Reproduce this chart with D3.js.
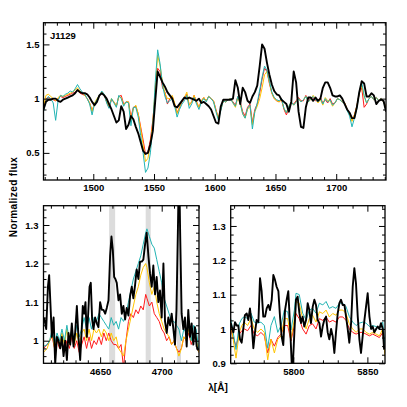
<!DOCTYPE html>
<html><head><meta charset="utf-8">
<script src="https://cdn.jsdelivr.net/npm/d3@7"></script>
<style>
body{margin:0;background:#fff}
svg{display:block}
text{font-family:"Liberation Sans",Arial,Helvetica,sans-serif;font-weight:bold}
</style>
</head><body>
<svg id="chart" width="407" height="407"></svg>
<script>
// ---------- DATA ----------
const topWave = [1459,1461,1463,1465,1467,1469,1471,1473,1475,1477,
1479,1481,1483,1485,1487,1489,1491,1493,1495,1497,
1499,1501,1503,1505,1507,1509,1511,1513,1515,1517,
1519,1521,1523,1525,1527,1529,1531,1533,1535,1537,
1539,1541,1543,1545,1547,1549,1551,1553,1555,1557,
1559,1561,1563,1565,1567,1569,1571,1573,1575,1577,
1579,1581,1583,1585,1587,1589,1591,1593,1595,1597,
1599,1601,1603,1605,1607,1609,1611,1613,1615,1617,
1619,1621,1623,1625,1627,1629,1631,1633,1635,1637,
1639,1641,1643,1645,1647,1649,1651,1653,1655,1657,
1659,1661,1663,1665,1667,1669,1671,1673,1675,1677,
1679,1681,1683,1685,1687,1689,1691,1693,1695,1697,
1699,1701,1703,1705,1707,1709,1711,1713,1715,1717,
1719,1721,1723,1725,1727,1729,1731,1733,1735,1737,
1739,1741];

const topBlack = [.90,.97,.99,.99,1.00,1.00,.98,.97,.99,1.00,
1.01,1.02,1.03,1.05,1.08,1.06,1.05,1.05,1.04,1.01,
.97,.94,.97,1.03,1.05,1.03,1.00,.95,.90,.84,
.78,.80,.93,.88,.72,.76,.84,.81,.74,.68,
.60,.52,.49,.50,.58,.70,.98,1.25,1.20,1.15,
1.11,1.06,1.03,1.00,.93,.92,.95,.98,1.01,1.00,
1.01,1.00,.99,.98,1.00,.96,.97,.95,.93,.90,
.84,.78,.77,.93,.99,.99,.99,.99,1.00,1.17,
1.10,.95,1.10,1.06,.98,.96,1.02,1.06,1.12,1.30,
1.50,1.46,1.33,1.22,1.13,1.07,1.04,1.03,.99,.97,
.95,.88,.97,1.25,1.15,.88,.74,.73,.92,1.01,
1.01,.98,1.01,.98,1.00,1.10,1.15,1.15,1.10,1.03,
1.02,1.02,1.03,1.00,.95,.90,.87,.82,.82,.92,
1.06,1.16,1.14,1.02,1.02,1.05,1.03,.95,.98,.99,
.98,.88];

const topRed = [.91,1.00,1.01,1.00,.99,.98,1.00,1.02,1.01,1.02,
1.03,1.04,1.05,1.06,1.08,1.05,1.04,1.03,1.00,.96,
.89,.95,.99,1.02,1.06,1.03,.97,.92,.99,.97,
.93,1.02,1.03,.95,.97,.97,.83,.92,.93,.86,
.74,.62,.49,.51,.62,.80,1.05,1.28,1.25,1.10,
1.06,.95,1.00,1.02,.95,.87,.92,.97,1.00,1.04,
.94,.97,1.03,.97,.92,.98,1.01,.98,1.02,1.00,
.98,.90,.82,.90,.98,.97,.99,1.00,.97,.94,
1.02,.97,.88,.84,.92,.95,.78,.90,.95,1.05,
1.18,1.28,1.25,1.14,1.05,1.00,.98,.97,.99,.90,
.85,.91,.96,.95,.98,1.01,.98,.98,1.03,.98,
1.01,1.01,.98,.98,1.01,.96,.99,.96,1.00,.95,
.96,1.00,.99,.97,.96,.90,.87,.80,.85,.93,
1.05,1.10,.92,.95,1.00,1.02,.99,1.01,.98,1.00,
.97,.92];

const topYellow = [.93,1.03,1.04,1.02,1.00,.98,1.01,1.03,1.02,1.03,
1.04,1.05,1.06,1.08,1.10,1.07,1.05,1.03,1.00,.96,
.88,.96,1.00,1.03,1.06,1.04,.97,.93,1.00,.97,
.93,1.02,1.01,.94,.97,.97,.80,.91,.94,.86,
.72,.58,.42,.45,.58,.78,1.10,1.40,1.30,1.15,
1.05,1.00,1.00,1.03,.96,.86,.92,.98,1.01,1.06,
.94,.97,1.03,.97,.92,.98,1.01,.98,1.02,1.00,
.98,.89,.82,.90,.98,.97,.99,1.00,.96,.92,
1.01,.95,.86,.82,.90,.93,.76,.88,.93,1.00,
1.10,1.22,1.25,1.15,1.05,1.00,.98,.97,.99,.91,
.87,.93,.97,.94,.97,1.00,.97,.99,1.02,.97,
.99,1.03,1.00,.96,.99,.94,1.01,.98,.98,.93,
.96,1.00,.99,.97,.96,.90,.86,.79,.85,.93,
1.05,1.12,1.02,.96,1.00,1.02,.99,1.01,.98,1.00,
.97,.92];

const topCyan = [.88,.98,1.02,1.00,.96,.80,.98,1.03,1.02,1.04,
1.05,1.07,1.06,1.09,1.13,1.09,1.06,1.04,1.00,.95,
.85,.95,.99,1.03,1.07,1.04,.96,.91,1.00,.96,
.92,1.03,1.00,.93,.97,.96,.75,.92,.92,.83,
.66,.50,.32,.36,.50,.74,1.15,1.45,1.32,1.12,
1.02,.96,.98,1.00,.93,.83,.90,.95,.98,1.03,
.91,.95,1.01,.95,.90,.97,1.00,.97,1.02,1.00,
.97,.88,.80,.89,.98,.97,.99,1.00,.96,.93,
1.02,.96,.86,.82,.91,.94,.72,.88,.96,1.08,
1.20,1.30,1.26,1.16,1.06,1.01,.99,.98,1.00,.91,
.87,.93,.97,.94,.97,1.00,.97,.99,1.02,.97,
1.00,1.02,.99,.97,1.00,.95,1.00,.97,.99,.94,
.96,1.00,.99,.97,.95,.89,.84,.74,.82,.91,
1.06,1.15,1.03,.96,1.00,1.02,.99,1.01,.98,1.00,
.97,.90];

// bottom-left panel (He II 4686 region)
const blWave = [4604,4607,4609,4611,4613,4615,4617,4619,4621,4623,
4625,4627,4629,4631,4633,4635,4637,4639,4641,4643,
4645,4647,4649,4651,4653,4655,4657,4659,4661,4663,
4665,4667,4669,4671,4673,4675,4677,4679,4681,4683,
4685,4687,4688,4690,4692,4694,4696,4698,4700,4702,
4704,4706,4708,4710,4712,4714,4716,4718,4720,4722,
4724,4726,4728,4730];
const blRed = [.98,.99,1.0,1.01,.98,1.0,.98,1.0,.97,1.0,
.98,1.01,.98,1.0,.97,.99,1.01,.98,1.01,.98,
1.0,.99,1.01,.99,1.02,1.0,1.02,1.0,.99,.99,
.98,.99,.93,1.0,1.05,1.07,1.06,1.08,1.07,1.09,
1.08,1.12,1.11,1.09,1.10,1.07,1.06,1.05,1.03,1.02,
1.0,1.01,.99,1.0,.98,.97,.98,1.01,1.0,1.02,
.99,1.01,1.0,.97];
const blYellow = [.97,.98,1.0,1.02,.98,1.01,.99,1.02,.99,1.03,
.99,1.02,.99,1.02,.99,1.02,1.03,1.0,1.03,1.0,
1.03,1.02,1.03,1.01,1.03,1.02,1.0,1.02,1.0,1.01,
.98,.97,.96,1.0,1.03,1.06,1.09,1.12,1.14,1.17,
1.19,1.20,1.19,1.15,1.12,1.14,1.10,1.07,1.05,1.03,
1.02,1.01,.99,1.0,.98,.96,.98,1.01,1.0,1.03,
1.0,1.02,1.01,.97];
const blCyan = [.985,.99,1.0,1.03,.99,1.02,1.0,1.03,1.0,1.04,
1.0,1.03,1.0,1.04,1.01,1.03,1.06,1.03,1.06,1.03,
1.06,1.05,1.07,1.06,1.05,1.04,1.03,1.06,1.04,1.05,
1.03,1.06,1.05,1.07,1.10,1.13,1.16,1.18,1.20,1.22,
1.25,1.28,1.29,1.27,1.25,1.24,1.21,1.18,1.15,1.11,
1.09,1.07,1.05,1.05,1.04,1.03,1.00,1.03,1.02,1.04,
1.00,1.04,1.03,.98];
const blWaveK = [4604.5,4606.2,4607.6,4608.6,4609.5,4610.8,4612.2,4613.5,4614.9,4616.2,
4617.6,4618.9,4620.3,4621.6,4623,4624.3,4625.7,4627,4628.4,4629.7,
4631.1,4632.4,4633.8,4634.9,4635.9,4637,4638.1,4639.2,4640.3,4641.4,
4642.4,4643.5,4644.6,4645.9,4647.3,4648.6,4650,4651.4,4652.7,4654.1,
4655.4,4656.8,4658.1,4659.2,4660.3,4661.4,4662.4,4663.5,4664.9,4666.2,
4667.6,4668.9,4670.3,4671.6,4673,4674.3,4675.7,4677,4678.4,4679.7,
4681.1,4682.4,4683.8,4685.1,4686.5,4687.8,4689.2,4690.5,4691.9,4693.2,
4694.6,4695.9,4697.3,4698.6,4700,4701.4,4702.7,4704.1,4705.4,4706.8,
4708.1,4709.5,4710.8,4712,4713,4714.1,4715.1,4716.2,4717.6,4718.9,
4720.3,4721.6,4723,4724.3,4725.7,4727,4728.4,4729.7];
const blBlack = [1.06,1.03,1.14,1.17,1.105,1.01,1.06,.94,1.01,1.00,
.98,1.01,.96,1.00,.95,1.02,.99,1.045,.985,1.02,
1.09,1.01,.95,1.02,1.09,1.07,1.10,1.01,1.07,1.14,
1.15,1.055,1.03,1.06,1.045,1.035,1.10,1.08,1.08,1.07,
1.085,1.105,1.22,1.27,1.235,1.165,1.16,1.15,1.105,1.12,
1.07,1.09,1.055,1.085,1.065,1.115,1.14,1.11,1.145,1.185,
1.16,1.205,1.205,1.21,1.25,1.28,1.22,1.175,1.14,1.195,
1.12,1.165,1.10,1.13,1.06,1.20,1.05,1.02,1.06,1.04,
1.07,1.03,.99,1.08,1.26,1.45,1.26,1.07,1.03,1.06,
.985,1.08,1.01,1.045,.99,1.035,.985,.975];
const blBands = [[4657.3,4662.2],[4687.0,4691.1],[4712.4,4715.7]];

// bottom-right panel
const brWave = [5757.7,5759.0,5761.3,5763.5,5765.2,5766.9,5769.1,5771.4,5773.6,5775.9,
5778.1,5780.4,5782.7,5784.9,5787.2,5789.5,5791.7,5793.9,5796.2,5798.4,
5800.7,5801.8,5804.0,5806.3,5808.6,5810.8,5813.0,5815.3,5817.6,5819.9,
5822.1,5824.3,5826.6,5828.8,5831.1,5833.4,5835.6,5837.8,5840.1,5842.4,
5844.6,5846.9,5849.1,5851.4,5853.6,5855.9,5858.1,5860.4,5861.9];
const brRed = [1.0,.98,.95,.985,.995,1.0,.995,1.01,.985,.98,
.99,.98,.93,.97,.95,.975,.985,1.01,1.01,.965,
1.01,1.045,1.03,1.0,.985,1.01,1.015,1.0,1.03,1.025,
1.035,1.02,1.025,1.02,1.035,1.035,1.025,1.0,.99,.985,
.99,.99,.985,.98,.985,.98,.975,.99,.93];
const brYellow = [1.02,.98,.915,.99,1.01,1.02,1.01,1.03,1.0,.99,
1.0,.99,.91,.97,.93,.97,.98,1.03,1.03,.97,
1.03,1.08,1.075,1.03,1.0,1.03,1.04,1.02,1.05,1.045,
1.055,1.035,1.045,1.04,1.055,1.055,1.045,1.015,1.0,.99,
1.0,1.0,.99,.985,.99,.985,.98,1.0,.92];
const brCyan = [1.03,1.00,.94,1.015,1.03,1.036,1.03,1.046,1.02,1.017,
1.02,1.01,.944,1.01,1.036,.99,1.01,1.055,1.05,.997,
1.055,1.104,1.10,1.046,1.026,1.055,1.06,1.046,1.075,1.07,
1.08,1.06,1.065,1.06,1.075,1.075,1.065,1.036,1.02,1.01,
1.017,1.02,1.017,1.007,1.01,1.007,1.0,1.02,.95];
const brWaveK = [5757.7,5759.5,5760.6,5761.7,5762.8,5764.0,5765.1,5766.2,5767.3,5768.5,
5769.6,5770.7,5771.8,5773.0,5774.1,5775.2,5776.4,5777.5,5778.6,5779.7,
5780.9,5782.0,5783.1,5784.2,5785.4,5786.5,5787.6,5788.7,5789.9,5791.0,
5792.1,5793.2,5794.4,5795.5,5796.6,5797.7,5798.9,5799.5,5800.7,5801.8,
5802.9,5804.1,5805.2,5806.3,5807.4,5808.6,5809.7,5810.8,5811.9,5813.1,
5814.2,5815.3,5816.4,5817.6,5818.7,5819.8,5820.9,5822.1,5823.2,5824.3,
5825.5,5826.6,5827.7,5828.8,5830.0,5831.1,5832.2,5833.3,5834.5,5835.6,
5836.7,5837.8,5839.0,5840.1,5841.2,5842.3,5843.5,5844.6,5845.7,5846.8,
5848.0,5849.1,5850.2,5851.4,5852.5,5853.6,5854.7,5855.9,5857.0,5858.1,
5859.2,5860.4,5861.3];
const brBlack = [1.017,.99,1.02,1.01,1.01,.97,.96,1.0,1.04,1.045,
1.026,1.06,1.017,.944,.99,1.026,1.02,1.148,1.11,1.036,
1.036,1.06,1.07,1.055,1.085,1.157,1.143,1.123,1.11,1.036,
.978,.953,1.055,1.085,1.11,1.017,.9,.88,.99,1.085,
1.094,1.046,1.017,1.036,1.007,1.026,1.075,1.055,1.017,1.065,
1.085,1.07,1.026,1.017,.978,1.007,1.026,1.036,.99,.97,
1.0,.978,.93,.99,1.046,1.075,1.085,1.07,1.07,1.036,
1.0,.96,1.017,1.123,1.177,1.133,1.036,.97,.93,.978,
1.026,1.065,1.104,1.036,1.0,1.007,.99,1.0,1.007,1.0,
1.017,1.0,.94];

// ticks / labels
const topXTicks = [1500,1550,1600,1650,1700];
const topYTicks = [0.5,1,1.5];
const topYLabels = ["0.5","1","1.5"];
const blXTicks = [4650,4700];
const blYTicks = [1,1.1,1.2,1.3];
const blYLabels = ["1","1.1","1.2","1.3"];
const brXTicks = [5800,5850];
const brYTicks = [0.9,1,1.1,1.2,1.3];
const brYLabels = ["0.9","1","1.1","1.2","1.3"];

const COLORS = {red:"#ff1a1a", yellow:"#ffc400", cyan:"#22b3b3", black:"#000"};

// ---------- DRAW ----------
const svg = d3.select("#chart");

function panel(p){
  const x = d3.scaleLinear().domain(p.xd).range([p.l, p.r]);
  const y = d3.scaleLinear().domain(p.yd).range([p.b, p.t]);
  const cid = "clip-" + p.name;
  svg.append("clipPath").attr("id", cid).append("rect")
    .attr("x", p.l).attr("y", p.t).attr("width", p.r - p.l).attr("height", p.b - p.t);
  const plot = svg.append("g").attr("clip-path", `url(#${cid})`);
  (p.bands || []).forEach(bd => {
    plot.append("rect").attr("x", x(bd[0])).attr("width", x(bd[1]) - x(bd[0]))
      .attr("y", p.t).attr("height", p.b - p.t).attr("fill", "#dcdcdc");
  });
  p.series.forEach(s => {
    const line = d3.line().x((d, i) => x(s.x[i])).y(d => y(d));
    plot.append("path").datum(s.y).attr("d", line)
      .attr("fill", "none").attr("stroke", s.c).attr("stroke-width", s.w)
      .attr("stroke-linejoin", "round");
  });

  const fmt = (labels, ticks) => (d) => labels[ticks.indexOf(d)];
  const axes = svg.append("g");
  function add(axis, tr){
    const g = axes.append("g").attr("transform", tr).call(axis);
    g.select(".domain").remove();
    g.selectAll("line").attr("stroke", "#000").attr("stroke-width", 1);
    g.attr("font-family", null).attr("font-size", null);
    g.selectAll("text").attr("font-size", "9.5px").attr("fill", "#000");
    return g;
  }
  // major
  add(d3.axisBottom(x).tickValues(p.xt).tickSize(-6).tickPadding(p.xpad).tickFormat(d3.format("d")), `translate(0,${p.b})`);
  add(d3.axisTop(x).tickValues(p.xt).tickSize(-6).tickFormat(""), `translate(0,${p.t})`);
  add(d3.axisLeft(y).tickValues(p.yt).tickSize(-6).tickPadding(p.ypad).tickFormat(fmt(p.yl, p.yt)), `translate(${p.l},0)`);
  add(d3.axisRight(y).tickValues(p.yt).tickSize(-6).tickFormat(""), `translate(${p.r},0)`);
  // minor
  add(d3.axisBottom(x).tickValues(p.xm).tickSize(-3).tickFormat(""), `translate(0,${p.b})`);
  add(d3.axisTop(x).tickValues(p.xm).tickSize(-3).tickFormat(""), `translate(0,${p.t})`);
  add(d3.axisLeft(y).tickValues(p.ym).tickSize(-3).tickFormat(""), `translate(${p.l},0)`);
  add(d3.axisRight(y).tickValues(p.ym).tickSize(-3).tickFormat(""), `translate(${p.r},0)`);

  svg.append("rect").attr("x", p.l).attr("y", p.t).attr("width", p.r - p.l).attr("height", p.b - p.t)
    .attr("fill", "none").attr("stroke", "#000").attr("stroke-width", 1.3);
  return {x, y};
}

function series(xs, r, yel, c, k){
  return [
    {x: xs, y: r, c: COLORS.red, w: 1},
    {x: xs, y: yel, c: COLORS.yellow, w: 1},
    {x: xs, y: c, c: COLORS.cyan, w: 1},
    {x: k[0], y: k[1], c: COLORS.black, w: 1.9}
  ];
}

const notIn = (arr) => (v) => !arr.some(a => Math.abs(a - v) < 1e-6);

panel({
  name: "top", l: 43.5, r: 386, t: 22.7, b: 180,
  xd: [1459, 1741], yd: [0.25, 1.7],
  xt: topXTicks, yt: topYTicks, yl: topYLabels, xpad: 4, ypad: 4,
  xm: d3.range(1460, 1741, 10).filter(notIn(topXTicks)),
  ym: d3.range(3, 17, 1).map(v => v / 10).filter(notIn(topYTicks)),
  series: series(topWave, topRed, topYellow, topCyan, [topWave, topBlack])
});

panel({
  name: "bl", l: 43.5, r: 199, t: 205.7, b: 363.3,
  xd: [4604, 4730.3], yd: [0.9414, 1.35],
  xt: blXTicks, yt: blYTicks, yl: blYLabels, xpad: 5, ypad: 5,
  xm: d3.range(4610, 4731, 10).filter(notIn(blXTicks)),
  ym: d3.range(48, 68, 1).map(v => v / 50).filter(notIn(blYTicks)),
  bands: blBands,
  series: series(blWave, blRed, blYellow, blCyan, [blWaveK, blBlack])
});

panel({
  name: "br", l: 230.7, r: 385, t: 205.7, b: 363.3,
  xd: [5757.7, 5861.9], yd: [0.9, 1.359],
  xt: brXTicks, yt: brYTicks, yl: brYLabels, xpad: 5, ypad: 5,
  xm: d3.range(5760, 5861, 10).filter(notIn(brXTicks)),
  ym: d3.range(36, 55, 1).map(v => v / 40).filter(notIn(brYTicks)),
  series: series(brWave, brRed, brYellow, brCyan, [brWaveK, brBlack])
});

// texts
svg.append("text").attr("x", 50).attr("y", 39).attr("font-size", "9.5px").text("J1129");
svg.append("text").attr("transform", "translate(17,197) rotate(-90)")
  .attr("text-anchor", "middle").attr("font-size", "10px").attr("letter-spacing", "0.4px")
  .text("Normalized flux");
svg.append("text").attr("x", 218).attr("y", 391).attr("text-anchor", "middle")
  .attr("font-size", "10px").text("λ[Å]");
</script>
</body></html>
